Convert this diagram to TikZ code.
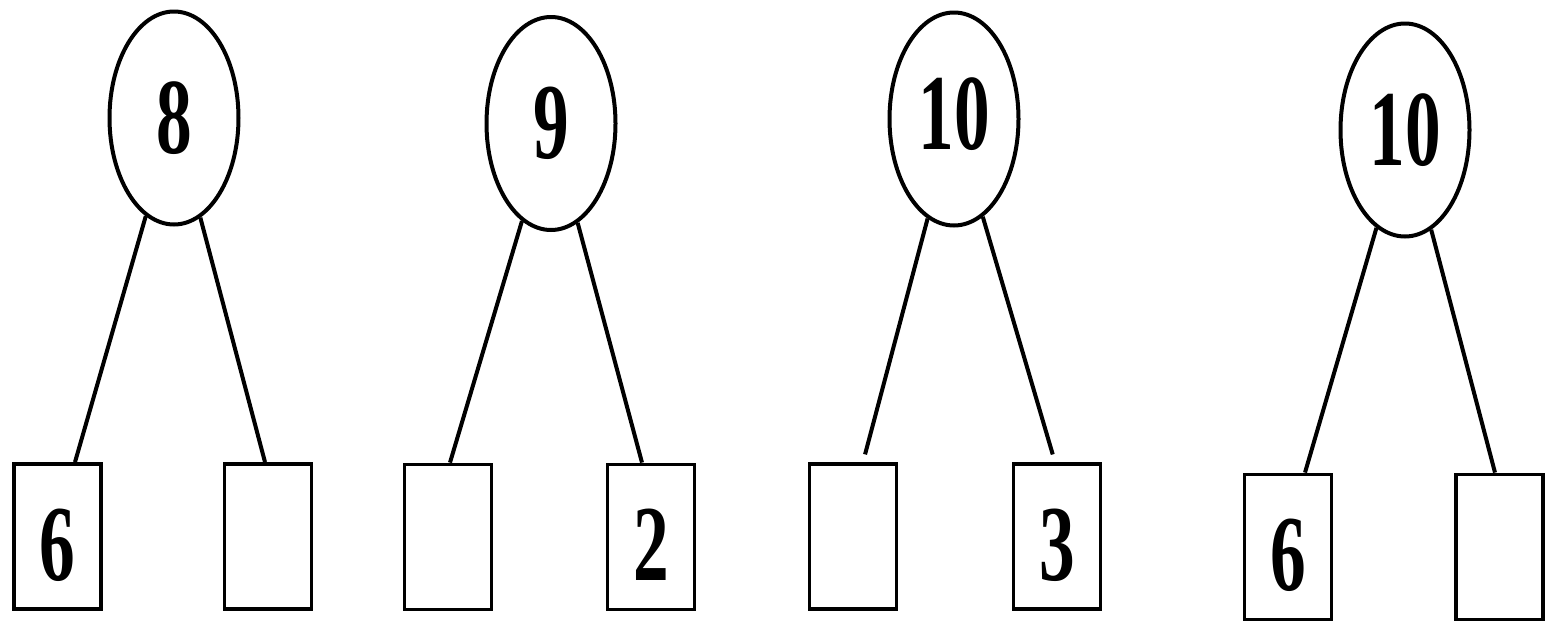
\documentclass[tikz,border=0pt]{standalone}
\usepackage{graphicx}
\usepackage{fontspec}
\setmainfont{Liberation Serif}
\usetikzlibrary{shapes.geometric}
\newcommand\narrowdigits[1]{\scalebox{0.66}[1]{#1}}
\begin{document}
\begin{tikzpicture}[x=0.5pt,y=-0.5pt,
  edge/.style={line width=2pt},
  parent/.style={draw, line width=2pt, ellipse, minimum width=64.5pt, minimum height=106.5pt,
    inner sep=0pt, font=\fontsize{54}{54}\selectfont\bfseries},
  leaf/.style={draw, line width=1.9pt, rectangle, minimum width=43.5pt, minimum height=72.5pt,
    inner sep=0pt, text height=43.5pt, text depth=0pt, font=\fontsize{54}{54}\selectfont\bfseries}]
\useasboundingbox (0,0) rectangle (1547,627);
% tree 1
\node[parent] (e1) at (174,118) {\narrowdigits{8}};
\node[leaf] (b1) at (57.5,536.5) {\narrowdigits{6}};
\node[leaf] (b2) at (268,536.5) {};
\draw[edge] (e1) -- ([xshift=8.75pt]b1.north);
\draw[edge] (e1) -- ([xshift=-1.5pt]b2.north);
% tree 2
\node[parent] (e2) at (551,123.5) {\narrowdigits{9}};
\node[leaf] (b3) at (448,537) {};
\node[leaf] (b4) at (651,537) {\narrowdigits{2}};
\draw[edge] (e2) -- ([xshift=1pt]b3.north);
\draw[edge] (e2) -- ([xshift=-4.5pt]b4.north);
% tree 3
\node[parent] (e3) at (954,119) {\raisebox{5pt}{\narrowdigits{10}}};
\node[leaf] (b5) at (853,536.5) {};
\node[leaf] (b6) at (1057,536.5) {\narrowdigits{3}};
\draw[edge, shorten >=4pt] (e3) -- ([xshift=5pt]b5.north);
\draw[edge, shorten >=4pt] (e3) -- ([xshift=-1pt]b6.north);
% tree 4
\node[parent] (e4) at (1405,130) {\narrowdigits{10}};
\node[leaf] (b7) at (1288,547) {\narrowdigits{6}};
\node[leaf] (b8) at (1499.5,547) {};
\draw[edge] (e4) -- ([xshift=8.5pt]b7.north);
\draw[edge] (e4) -- ([xshift=-2.25pt]b8.north);
\end{tikzpicture}
\end{document}
